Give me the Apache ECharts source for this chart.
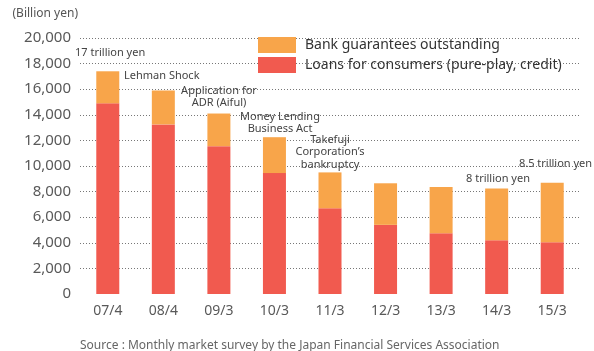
<!DOCTYPE html>
<html>
<head>
<meta charset="utf-8">
<script src="https://cdn.jsdelivr.net/npm/echarts@6/dist/echarts.min.js"></script>
<style>html,body{margin:0;padding:0;background:#fff;}#c{width:594px;height:351px;}</style>
</head>
<body>
<div id="c"></div>
<script>
const categories = ['07/4','08/4','09/3','10/3','11/3','12/3','13/3','14/3','15/3'];
const loans = [14900, 13250, 11550, 9450, 6700, 5400, 4750, 4200, 4050];
const totals = [17400, 15900, 14100, 12250, 9500, 8650, 8350, 8250, 8700];
const guarantees = totals.map((t, i) => t - loans[i]);
const yTicks = [0, 2000, 4000, 6000, 8000, 10000, 12000, 14000, 16000, 18000, 20000];
const seriesNames = ['Loans for consumers (pure-play, credit)', 'Bank guarantees outstanding'];
const annotationTexts = [
  '17 trillion yen',
  'Lehman Shock',
  'Application for\nADR (Aiful)',
  'Money Lending\nBusiness Act',
  'Takefuji\nCorporation\u2019s\nbankruptcy',
  '8 trillion yen',
  '8.5 trillion yen'
];
const sourceText = 'Source : Monthly market survey by the Japan Financial Services Association';

// layout (pixel positions of annotation texts)
const annLayout = [
  {x: 75, y: 53, align: 'left'},
  {x: 124, y: 75.5, align: 'left'},
  {x: 219, y: 96.7, align: 'center'},
  {x: 280, y: 123, align: 'center'},
  {x: 330, y: 152.3, align: 'center'},
  {x: 498, y: 178.7, align: 'center'},
  {x: 555.5, y: 164, align: 'center'}
];

const FONT = 'Noto Sans';
const chart = echarts.init(document.getElementById('c'), null, {renderer: 'canvas'});
const graphics = annotationTexts.map((t, i) => ({
  type: 'text', left: null, x: annLayout[i].x, y: annLayout[i].y, z: 10,
  style: {text: t, fill: '#444', font: '11px "' + FONT + '"', align: annLayout[i].align,
          verticalAlign: 'middle', lineHeight: 12.5}
}));
graphics.push({
  type: 'text', x: 80, y: 346, z: 10,
  style: {text: sourceText, fill: '#666', font: '12px "' + FONT + '"', align: 'left', verticalAlign: 'middle'}
});

chart.setOption({
  animation: false,
  textStyle: {fontFamily: FONT},
  grid: {left: 80, right: 14, top: 38, bottom: 57, containLabel: false},
  legend: {
    orient: 'vertical', left: 253, top: 32, itemWidth: 38, itemHeight: 16, itemGap: 4,
    icon: 'rect',
    data: [seriesNames[1], seriesNames[0]],
    textStyle: {fontSize: 14, color: '#333', padding: [0, 0, 0, 4], fontFamily: FONT}
  },
  xAxis: {
    type: 'category', data: categories,
    axisLine: {show: false}, axisTick: {show: false},
    axisLabel: {fontSize: 14, color: '#595959', margin: 10, fontFamily: FONT}
  },
  yAxis: {
    type: 'value', min: 0, max: 20000, interval: 2000,
    name: '(Billion yen)', nameLocation: 'end', nameGap: 18,
    nameTextStyle: {fontSize: 12, color: '#555', align: 'right', padding: [0, 2, 0, 0], fontFamily: FONT},
    axisLine: {show: false}, axisTick: {show: false},
    axisLabel: {fontSize: 15, color: '#595959', margin: 9, padding: [6, 0, 0, 0], fontFamily: FONT,
      formatter: v => yTicks.includes(v) ? v.toLocaleString('en-US') : ''},
    splitLine: {show: true, showMinLine: false, lineStyle: {color: '#777', type: [1, 2], width: 1}}
  },
  series: [
    {name: seriesNames[0], type: 'bar', stack: 'a', data: loans, barWidth: 23,
     itemStyle: {color: '#F15A4F'}},
    {name: seriesNames[1], type: 'bar', stack: 'a', data: guarantees, barWidth: 23,
     itemStyle: {color: '#F8A54A'}}
  ],
  graphic: graphics
});
</script>
</body>
</html>
